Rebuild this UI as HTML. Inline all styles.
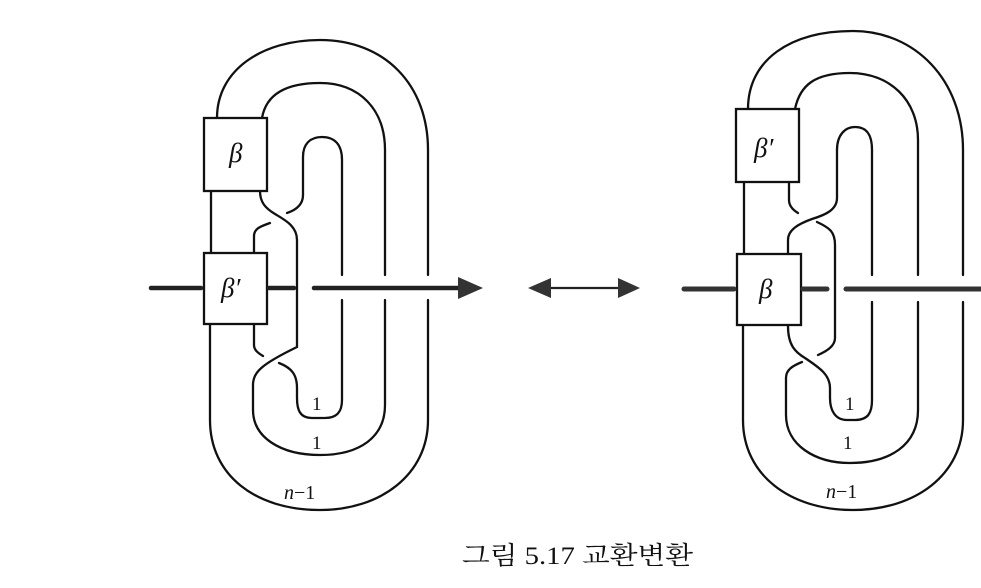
<!DOCTYPE html>
<html><head><meta charset="utf-8"><style>
html,body{margin:0;padding:0;background:#fff;}
svg{display:block;}
</style></head><body>
<svg width="981" height="588" viewBox="0 0 981 588" xmlns="http://www.w3.org/2000/svg">
<g fill="none" stroke="#111" stroke-width="2.3" stroke-linecap="round">
<!-- LEFT FIGURE -->
<path d="M217,118 C217,70 262,40 320,40 C385,40 428,85 428,150 L428,275 M428,300 L428,420 C428,475 380,510 320,510 C255,510 210,475 210,420 L210,325"/>
<path d="M211,191 L211,253"/>
<path d="M262,118 C266,95 285,83 320,83 C360,83 385,110 385,150 L385,275 M385,300 L385,405 C385,437 360,455 320,455 C280,455 253,437 253,410 L253,385 C253,372 262,364 297,347 L297,240 C297,226 285,220 275,214 C265,208 260,202 260,191"/>
<path d="M303,195 L303,157 C303,144 310,137 322,137 C335,137 342,145 342,160 L342,275 M342,300 L342,400 C342,413 336,418 325,418 L312,418 C300,418 297,410 297,398 L297,388 C297,375 292,368 279,363"/>
<path d="M303,195 C303,205 296,210 287,213"/>
<path d="M270,223 C262,226 254,228 254,236 L254,253"/>
<path d="M254,325 L254,345 C254,350 258,353 263,356"/>
</g>
<rect x="204" y="118" width="63" height="73" fill="#fff" stroke="#111" stroke-width="2.3"/>
<rect x="204" y="253" width="63" height="71" fill="#fff" stroke="#111" stroke-width="2.3"/>
<g stroke="#222" stroke-width="4.5" stroke-linecap="round">
<line x1="151" y1="288" x2="201" y2="288"/>
<line x1="269" y1="288" x2="294" y2="288"/>
<line x1="314" y1="288" x2="462" y2="288"/>
</g>
<polygon points="458,277 483,288 458,299" fill="#333"/>
<!-- middle double arrow -->
<line x1="548" y1="288" x2="620" y2="288" stroke="#222" stroke-width="2.3"/>
<polygon points="528,288 551,278 551,298" fill="#333"/>
<polygon points="640,288 618,278 618,298" fill="#333"/>
<!-- RIGHT FIGURE -->
<g fill="none" stroke="#111" stroke-width="2.3" stroke-linecap="round">
<path d="M748,109 C748,60 790,31 853,31 C915,31 963,80 963,150 L963,275 M963,302 L963,420 C963,475 915,510 853,510 C790,510 743,475 743,420 L743,326"/>
<path d="M744,182 L744,254"/>
<path d="M795,109 C800,85 815,73 850,73 C890,73 918,100 918,140 L918,275 M918,302 L918,410 C918,445 890,463 850,463 C815,463 786,445 786,415 L786,378 C786,370 792,366 802,362"/>
<path d="M837,150 C837,135 845,127 855,127 C867,127 872,135 872,150 L872,275 M872,302 L872,400 C872,413 868,420 855,420 L847,420 C835,420 830,410 830,398 L830,388 C830,375 820,368 805,358 C795,352 788,345 788,326"/>
<path d="M837,150 L837,198 C837,210 825,215 812,219 C798,224 788,230 788,240 L788,254"/>
<path d="M789,182 L789,200 C789,206 793,210 798,213"/>
<path d="M817,222 C830,228 835,232 835,245 L835,338 C835,346 827,351 818,355"/>
</g>
<rect x="736" y="109" width="63" height="73" fill="#fff" stroke="#111" stroke-width="2.3"/>
<rect x="737" y="254" width="64" height="71" fill="#fff" stroke="#111" stroke-width="2.3"/>
<g stroke="#333" stroke-width="5" stroke-linecap="round">
<line x1="684" y1="289" x2="734" y2="289"/>
<line x1="803" y1="289" x2="827" y2="289"/>
<line x1="846" y1="289" x2="985" y2="289"/>
</g>
<!-- labels -->
<g font-family="'Liberation Serif', serif" fill="#111">
<text x="229" y="162" font-size="27" font-style="italic">β</text>
<text x="221" y="297" font-size="27" font-style="italic">β′</text>
<text x="312" y="410" font-size="19">1</text>
<text x="312" y="449" font-size="19">1</text>
<text x="284" y="499" font-size="20"><tspan font-style="italic">n</tspan>−1</text>
<text x="754" y="157" font-size="27" font-style="italic">β′</text>
<text x="759" y="298" font-size="27" font-style="italic">β</text>
<text x="845" y="410" font-size="19">1</text>
<text x="843" y="449" font-size="19">1</text>
<text x="826" y="498" font-size="20"><tspan font-style="italic">n</tspan>−1</text>
</g>
<text x="462" y="564" font-family="'Liberation Serif','Noto Serif CJK SC',serif" font-size="25" fill="#111" textLength="231" lengthAdjust="spacingAndGlyphs">그림 5.17  교환변환</text>
</svg>
</body></html>
